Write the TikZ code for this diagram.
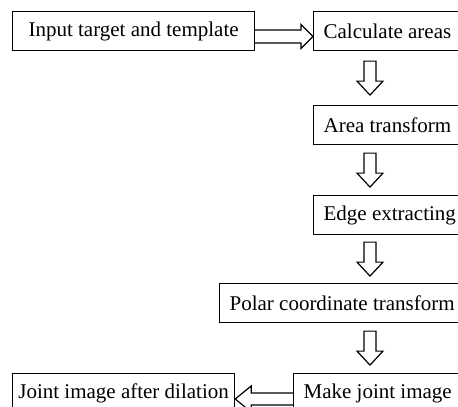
\documentclass[tikz,border=0pt]{standalone}
\usepackage{fontspec}
\setmainfont{Liberation Serif}
\usetikzlibrary{calc}

\tikzset{
  stepbox/.style = {draw, line width=1.2pt, minimum height=39pt, inner xsep=10pt,
                    anchor=north west, font=\fontsize{21}{24}\selectfont},
  cutbox/.style = {stepbox, execute at end node={\hspace*{20pt}}},
  blockright/.style = {to path={
      ($(\tikztostart)+(0,-6.5)$) -- ($(\tikztotarget)+(-12,-6.5)$)
      -- ($(\tikztotarget)+(-12,-12)$) -- (\tikztotarget)
      -- ($(\tikztotarget)+(-12,12)$) -- ($(\tikztotarget)+(-12,6.5)$)
      -- ($(\tikztostart)+(0,6.5)$)}},
  blockleft/.style = {to path={
      ($(\tikztostart)+(0,-6)$) -- ($(\tikztotarget)+(16,-6)$)
      -- ($(\tikztotarget)+(16,-13)$) -- (\tikztotarget)
      -- ($(\tikztotarget)+(16,13)$) -- ($(\tikztotarget)+(16,6)$)
      -- ($(\tikztostart)+(0,6)$)}},
  blockdown/.style = {to path={
      let \p1 = ($(\tikztostart)!0.5!(\tikztotarget)$) in
      ($(\p1)+(-6,-17)$) -- ($(\p1)+(-6,3)$) -- ($(\p1)+(-13,3)$)
      -- ($(\p1)+(0,17)$) -- ($(\p1)+(13,3)$) -- ($(\p1)+(6,3)$)
      -- ($(\p1)+(6,-17)$) -- cycle}}
}

\begin{document}
\begin{tikzpicture}[x=1pt, y=-1pt]
    % Page frame
    \useasboundingbox (0,0) rectangle (458,407);
    \clip (0,0) rectangle (458,407);

    % Draw the boxes
    \node [stepbox, minimum width=242pt] (input) at (12,11) {Input target and template};
    \node [cutbox] (calc) at (313,11) {Calculate areas};
    \node [cutbox] (area) at (313,105) {Area transform};
    \node [cutbox] (edge) at (313,195) {Edge extracting};
    \node [cutbox] (polar) at (219,283) {Polar coordinate transform};
    \node [cutbox] (make) at (293,373) {Make joint image};
    \node [stepbox, minimum width=222pt, inner xsep=5pt] (joint) at (12,373) {Joint image after dilation};

    % Arrow rows and axis
    \coordinate (rowtop) at (0,36.5);
    \coordinate (rowbot) at (0,399);
    \coordinate (axis) at (370,0);

    % Draw the hollow arrows
    \draw [line width=1.2pt, line join=miter] (input.east |- rowtop) to[blockright] (calc.west |- rowtop);
    \draw [line width=1.2pt] (calc.south -| axis) to[blockdown] (area.north -| axis);
    \draw [line width=1.2pt] (area.south -| axis) to[blockdown] (edge.north -| axis);
    \draw [line width=1.2pt] (edge.south -| axis) to[blockdown] (polar.north -| axis);
    \draw [line width=1.2pt] (polar.south -| axis) to[blockdown] (make.north -| axis);
    \draw [line width=1.2pt, line join=miter] (make.west |- rowbot) to[blockleft] (joint.east |- rowbot);
\end{tikzpicture}
\end{document}
